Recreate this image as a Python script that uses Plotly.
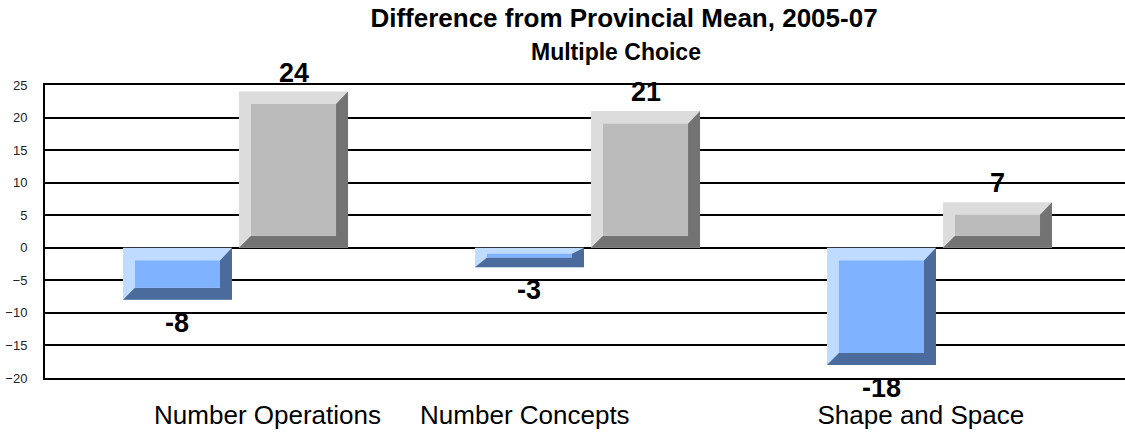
import plotly.graph_objects as go

# ---------------- data ----------------
categories = ["Number Operations", "Number Concepts", "Shape and Space"]
school_diff = [-8, -3, -18]      # blue series
second_diff = [24, 21, 7]        # grey series
y_ticks = [25, 20, 15, 10, 5, 0, -5, -10, -15, -20]
label_pos = [0.091, 0.822, 1.947]   # category label positions (category units)

# ---------------- style ----------------
FONT = "Liberation Sans, Arial, sans-serif"
W, H = 1125, 437
ML, MR, MT, MB = 45, 0, 85, 59
X_RANGE = [-0.5412, 2.527]
Y_RANGE = [-20, 25]
px_x = (W - ML - MR) / (X_RANGE[1] - X_RANGE[0])
px_y = (H - MT - MB) / (Y_RANGE[1] - Y_RANGE[0])

BAR_W = 0.3097
OFFSET = 0.1648
BEV_PX = 12

blue = dict(light="#BFDBFF", face="#7FB3FF", dark="#4A6B9B")
grey = dict(light="#DCDCDC", face="#BBBBBB", dark="#737373")

fig = go.Figure()


def poly(xs, ys, color):
    fig.add_trace(go.Scatter(x=xs + [xs[0]], y=ys + [ys[0]], mode="lines",
                             fill="toself", fillcolor=color,
                             line=dict(width=0, color=color),
                             hoverinfo="skip", showlegend=False))


def bevel_bar(xc, v, pal):
    x0, x1 = xc - BAR_W / 2, xc + BAR_W / 2
    yb, yt = min(0, v), max(0, v)
    h = yt - yb
    bx = BEV_PX / px_x
    by_t = min(BEV_PX / px_y * 1.05, h * 0.3)
    by_b = min(BEV_PX / px_y, h * 0.5)
    # outer (light) body
    poly([x0, x1, x1, x0], [yb, yb, yt, yt], pal["light"])
    # dark bottom/right bevel
    poly([x0, x1, x1, x1 - bx, x1 - bx, x0 + bx],
         [yb, yb, yt, yt - by_t, yb + by_b, yb + by_b], pal["dark"])
    # front face
    poly([x0 + bx, x1 - bx, x1 - bx, x0 + bx],
         [yb + by_b, yb + by_b, yt - by_t, yt - by_t], pal["face"])


annotations = []
for i, (a, b) in enumerate(zip(school_diff, second_diff)):
    for xc, v, pal in ((i - OFFSET, a, blue), (i + OFFSET, b, grey)):
        bevel_bar(xc, v, pal)
        annotations.append(dict(
            x=xc, y=v, xref="x", yref="y", text=str(v), showarrow=False,
            yanchor="bottom" if v >= 0 else "top",
            yshift=2 if v >= 0 else -6,
            font=dict(family=FONT, size=27, color="#000000", weight="bold")))

annotations.append(dict(
    text="<b>Multiple Choice</b>", x=(616 - ML) / (W - ML - MR), xref="paper",
    y=1 + (MT - 52) / (H - MT - MB), yref="paper", showarrow=False,
    xanchor="center", yanchor="middle",
    font=dict(family=FONT, size=23, color="#000000")))

fig.update_layout(
    width=W, height=H,
    margin=dict(l=ML, r=MR, t=MT, b=MB),
    paper_bgcolor="white", plot_bgcolor="white",
    showlegend=False,
    title=dict(text="<b>Difference from Provincial Mean, 2005-07</b>",
               x=624 / W, xanchor="center", xref="container",
               y=1 - 18 / H, yanchor="middle", yref="container",
               font=dict(family=FONT, size=26, color="#000000")),
    annotations=annotations,
    xaxis=dict(range=X_RANGE, tickmode="array", tickvals=label_pos,
               ticktext=categories, showgrid=False, zeroline=False,
               showline=True, mirror=True, linecolor="#000000", linewidth=2,
               ticks="", ticklabelstandoff=13,
               tickfont=dict(family=FONT, size=26, color="#000000")),
    yaxis=dict(range=Y_RANGE, tickmode="array", tickvals=y_ticks,
               showgrid=True, gridcolor="#000000", gridwidth=2,
               zeroline=True, zerolinecolor="#000000", zerolinewidth=2,
               showline=True, linecolor="#000000", linewidth=2,
               ticks="", ticklabelstandoff=13,
               tickfont=dict(family=FONT, size=13, color="#222222")),
)

fig.write_html("out.html",
               config={"displayModeBar": False},
               post_script="document.body.style.margin='0px';")
